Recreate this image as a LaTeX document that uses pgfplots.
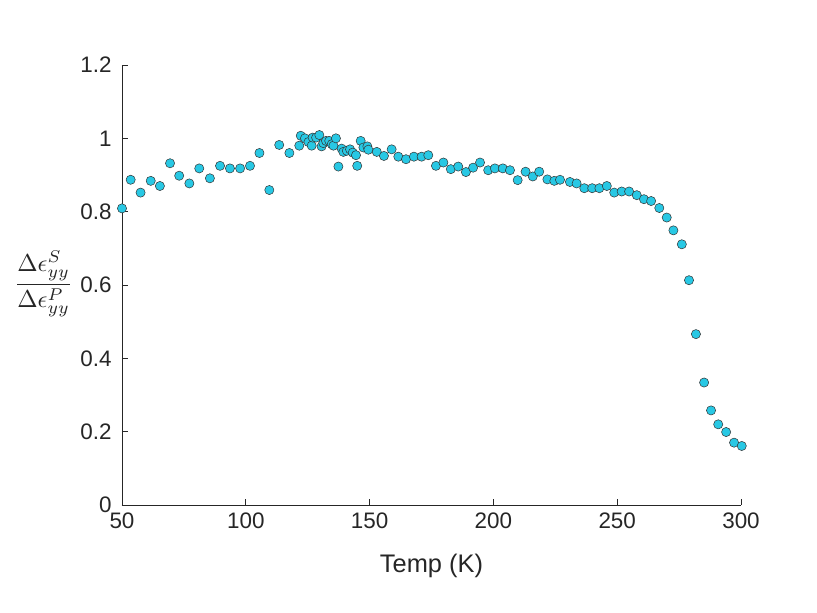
\documentclass[border=0pt]{standalone}
\usepackage{amsmath}
\usepackage{graphicx}
\usepackage{pgfplots}
\pgfplotsset{compat=1.18}
\usepackage{fontspec}
\setmainfont{Liberation Sans}
\definecolor{mk}{RGB}{40,200,228}
\definecolor{ax}{RGB}{38,38,38}
\begin{document}
\begin{tikzpicture}
\path[use as bounding box] (-122bp,-108bp) rectangle (695bp,505bp);
\begin{axis}[
  at={(0,0)}, anchor=origin,
  scale only axis, width=619bp, height=440bp,
  xmin=50, xmax=300, ymin=0, ymax=1.2,
  axis x line*=bottom, axis y line*=left,
  axis line style={line width=0.8pt, color=ax},
  xtick={50,100,...,300}, ytick={0,0.2,...,1.2},
  yticklabels={0,0.2,0.4,0.6,0.8,1,1.2},
  tick align=inside, major tick length=6bp,
  tick style={line width=0.8pt, color=ax},
  /pgf/number format/assume math mode=true,
  ticklabel style={font=\fontsize{22.5}{26}\selectfont, color=ax},
  xticklabel style={yshift=-4bp},
  yticklabel style={xshift=-7bp},
  xlabel={Temp (K)},
  every axis x label/.style={at={(axis description cs:0.5,0)}, anchor=north, yshift=-46bp, font=\fontsize{25.5}{30}\selectfont, color=ax},
  ylabel={\scalebox{2.45}{$\dfrac{\Delta\epsilon^{S}_{yy}}{\Delta\epsilon^{P}_{yy}}$}},
  every axis y label/.style={at={(axis description cs:0,0.5)}, anchor=east, xshift=-49bp, yshift=1bp, color=ax, inner sep=0pt},
  clip=false,
]
\addplot[only marks, mark=*, mark size=4.6bp, mark options={fill=mk, draw=black!80, line width=0.5pt}] coordinates {
(50,0.809) (53.5,0.887) (57.5,0.852) (61.6,0.884) (65.3,0.870) (69.4,0.932)
(73.1,0.898) (77.2,0.877) (81.2,0.918) (85.5,0.891) (89.6,0.925) (93.6,0.918)
(97.7,0.918) (101.7,0.925) (105.5,0.960) (109.5,0.859) (113.5,0.982) (117.6,0.960)
(121.6,0.980) (122.2,1.007) (123.9,1.000) (125.3,0.990) (126.6,0.980) (127.0,1.002)
(128.4,1.002) (129.7,1.009) (130.6,0.978) (131.3,0.987) (132.4,0.993) (133.7,0.993)
(134.7,0.984) (135.4,0.980) (136.4,1.000) (137.4,0.923) (138.7,0.972) (139.4,0.963)
(140.8,0.966) (142.1,0.970) (143.2,0.961) (144.5,0.954) (145.0,0.925) (146.4,0.993)
(147.5,0.975) (149.1,0.978) (149.5,0.969) (152.9,0.963) (155.8,0.952) (158.9,0.970)
(161.6,0.950) (164.7,0.943) (167.9,0.950) (171.0,0.950) (173.7,0.954) (176.8,0.925)
(179.8,0.934) (182.8,0.916) (185.8,0.923) (188.9,0.908) (191.8,0.920) (194.6,0.934)
(197.9,0.913) (200.6,0.918) (203.8,0.918) (206.7,0.913) (209.8,0.886) (213.0,0.909)
(215.9,0.896) (218.5,0.909) (221.8,0.888) (224.6,0.884) (226.9,0.887) (230.9,0.881)
(233.6,0.877) (236.7,0.864) (239.9,0.864) (242.8,0.864) (245.8,0.870) (248.8,0.852)
(251.8,0.855) (254.8,0.855) (257.9,0.845) (260.8,0.834) (263.7,0.829) (267.0,0.810)
(270.0,0.784) (272.7,0.749) (276.1,0.711) (279.0,0.613) (281.8,0.466) (285.1,0.334)
(287.9,0.258) (290.8,0.220) (294.0,0.199) (297.2,0.170) (300.3,0.161)
};
\end{axis}
\end{tikzpicture}
\end{document}
